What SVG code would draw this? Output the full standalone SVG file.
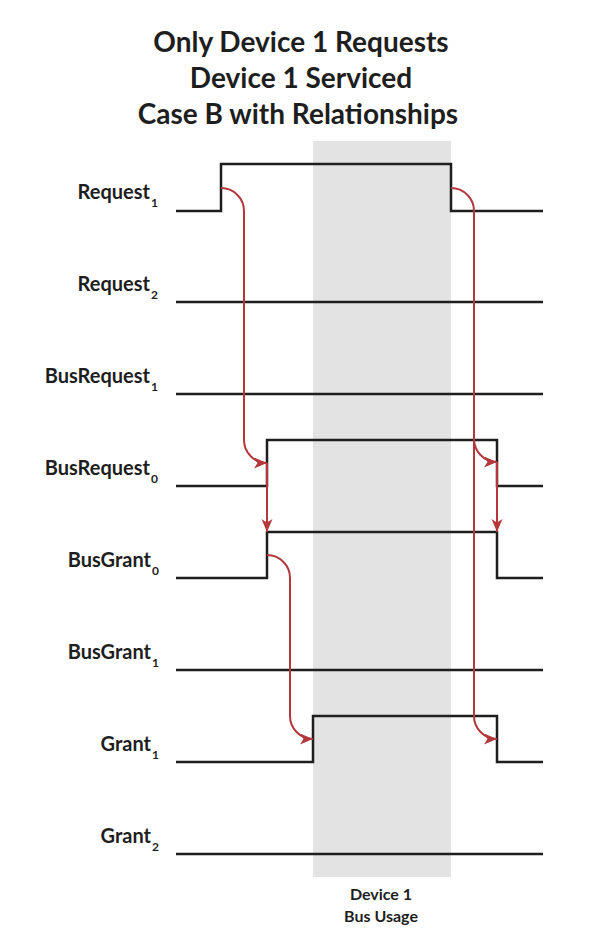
<svg xmlns="http://www.w3.org/2000/svg" width="608" height="948" viewBox="0 0 608 948">
<style>
text{font-family:Lato,"Open Sans","Liberation Sans",sans-serif;font-weight:bold;fill:#1e1e1e}
.title{font-size:28px;text-anchor:middle}
.lbl{font-size:20px;text-anchor:end}
.sub{font-size:12px}
.foot{font-size:16px;text-anchor:middle}
.wave{fill:none;stroke:#1e1e1e;stroke-width:2.5;stroke-linejoin:miter}
.rel{fill:none;stroke:#b3373b;stroke-width:2}
</style>
<defs>
<marker id="ah" markerUnits="userSpaceOnUse" markerWidth="14" markerHeight="12" refX="13" refY="5.5" orient="auto">
<path d="M0,0 L13,5.5 L0,11 L3.5,5.5 z" fill="#b3373b"/>
</marker>
</defs>
<rect width="608" height="948" fill="#ffffff"/>
<g id="title">
<text class="title" x="301" y="52">Only Device 1 Requests</text>
<text class="title" x="301" y="88">Device 1 Serviced</text>
<text class="title" x="298" y="124">Case B with Relationships</text>
</g>
<g id="bus-usage">
<rect x="313" y="141" width="138" height="736" fill="#e3e3e3"/>
<text class="foot" x="381" y="900">Device 1</text>
<text class="foot" x="381" y="922">Bus Usage</text>
</g>
<g id="request1">
<text class="lbl" x="150" y="199">Request</text><text class="sub" x="151" y="207">1</text>
<path class="wave" d="M176,211 H221 V164 H451 V211 H543"/>
</g>
<g id="request2">
<text class="lbl" x="150" y="291">Request</text><text class="sub" x="151" y="299">2</text>
<path class="wave" d="M176,302 H543"/>
</g>
<g id="busrequest1">
<text class="lbl" x="150" y="383">BusRequest</text><text class="sub" x="151" y="391">1</text>
<path class="wave" d="M176,394 H543"/>
</g>
<g id="busrequest0">
<text class="lbl" x="150" y="475">BusRequest</text><text class="sub" x="151" y="483">0</text>
<path class="wave" d="M176,486 H267 V440 H497 V486 H543"/>
</g>
<g id="busgrant0">
<text class="lbl" x="151" y="567">BusGrant</text><text class="sub" x="152" y="575">0</text>
<path class="wave" d="M176,578 H267 V532 H497 V578 H543"/>
</g>
<g id="busgrant1">
<text class="lbl" x="151" y="659">BusGrant</text><text class="sub" x="152" y="667">1</text>
<path class="wave" d="M176,670 H543"/>
</g>
<g id="grant1">
<text class="lbl" x="151" y="751">Grant</text><text class="sub" x="152" y="759">1</text>
<path class="wave" d="M176,762 H313 V716 H497 V762 H543"/>
</g>
<g id="grant2">
<text class="lbl" x="151" y="843">Grant</text><text class="sub" x="152" y="851">2</text>
<path class="wave" d="M176,854 H543"/>
</g>
<g id="connectors">
<path class="rel" marker-end="url(#ah)" d="M221,188 A23,23 0 0 1 244,211 L244,440 A23,23 0 0 0 267,463"/>
<path class="rel" marker-end="url(#ah)" d="M267,463 L267,532"/>
<path class="rel" marker-end="url(#ah)" d="M267,555 A23,23 0 0 1 290,578 L290,716 A23,23 0 0 0 313,739"/>
<path class="rel" marker-end="url(#ah)" d="M451,188 A23,23 0 0 1 474,211 L474,716 A23,23 0 0 0 497,739"/>
<path class="rel" marker-end="url(#ah)" d="M474,439 A23,23 0 0 0 497,462"/>
<path class="rel" marker-end="url(#ah)" d="M497,462 L497,532"/>
</g>
</svg>
